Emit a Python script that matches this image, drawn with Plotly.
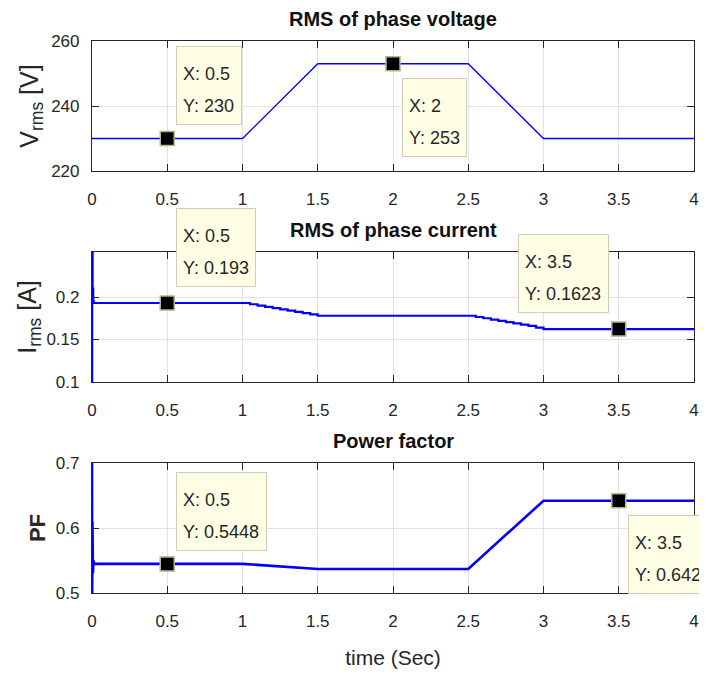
import plotly.graph_objects as go

# ---------------- data ----------------
t_volt = [0, 1, 1.5, 2.5, 3, 4]
v_rms = [230, 230, 253, 253, 230, 230]

t_cur = [0, 0.001, 0.004, 0.008, 0.012, 1.0, 1.05, 1.1, 1.15, 1.2, 1.25, 1.3, 1.35, 1.4, 1.45, 1.5,
         2.5, 2.55, 2.6, 2.65, 2.7, 2.75, 2.8, 2.85, 2.9, 2.95, 3.0, 4.0]
i_rms = [0.1, 0.26, 0.21, 0.195, 0.193, 0.193, 0.1915, 0.190, 0.1885, 0.187, 0.1855, 0.184, 0.1825, 0.181, 0.1795, 0.178,
         0.178, 0.1765, 0.175, 0.1735, 0.172, 0.1705, 0.169, 0.1675, 0.166, 0.164, 0.1623, 0.1623]

t_pf = [0, 0.001, 0.003, 0.006, 0.01, 0.015, 1.0, 1.1, 1.2, 1.3, 1.4, 1.5, 2.5, 2.6, 2.7, 2.8, 2.9, 3.0, 4.0]
pf = [0.70, 0.50, 0.61, 0.53, 0.55, 0.5448, 0.5448, 0.5432, 0.5415, 0.540, 0.538, 0.537, 0.537, 0.558, 0.580, 0.601, 0.621, 0.642, 0.642]

tip_v_x = [0.5, 2]
tip_v_y = [230, 253]
tip_i_x = [0.5, 3.5]
tip_i_y = [0.193, 0.1623]
tip_pf_x = [0.5, 3.5]
tip_pf_y = [0.5448, 0.642]

x_ticks = [0, 0.5, 1, 1.5, 2, 2.5, 3, 3.5, 4]
x_tick_text = ["0", "0.5", "1", "1.5", "2", "2.5", "3", "3.5", "4"]
v_ticks = [220, 240, 260]
i_ticks = [0.1, 0.15, 0.2]
pf_ticks = [0.5, 0.6, 0.7]

titles = ["RMS of phase voltage", "RMS of phase current", "Power factor"]

# ---------------- style ----------------
FONT = "Liberation Sans, Arial, sans-serif"
TXT = "#262626"
BLUE = "#0000ff"
OFF = 8  # page body margin
W, H = 707 - OFF, 675 - OFF
ML, MR, MT, MB = 92 - OFF, 8, 41 - OFF, 82
ph = H - MT - MB
dom1 = [(593 - 171) / ph, 1.0]
dom2 = [(593 - 382) / ph, (593 - 252) / ph]
dom3 = [0.0, (593 - 463) / ph]

fig = go.Figure()

fig.add_trace(go.Scatter(x=t_volt, y=v_rms, mode="lines", line=dict(color=BLUE, width=1.3),
                         xaxis="x", yaxis="y", showlegend=False))
fig.add_trace(go.Scatter(x=t_cur, y=i_rms, mode="lines", line=dict(color=BLUE, width=2.2, shape="hv"),
                         xaxis="x2", yaxis="y2", showlegend=False))
fig.add_trace(go.Scatter(x=t_pf, y=pf, mode="lines", line=dict(color=BLUE, width=2.6),
                         xaxis="x3", yaxis="y3", showlegend=False))

mk = dict(symbol="square", size=14, color="black", line=dict(color="#b4b48c", width=1.5))
for xs, ys, xa, ya in [(tip_v_x, tip_v_y, "x", "y"), (tip_i_x, tip_i_y, "x2", "y2"),
                       (tip_pf_x, tip_pf_y, "x3", "y3")]:
    fig.add_trace(go.Scatter(x=xs, y=ys, mode="markers", marker=mk, xaxis=xa, yaxis=ya,
                             showlegend=False, cliponaxis=False))

common_x = dict(range=[0, 4], tickvals=x_ticks, ticktext=x_tick_text, ticks="inside", ticklen=7,
                tickcolor=TXT, showline=True, linecolor=TXT, linewidth=1.2, mirror="ticks",
                showgrid=True, gridcolor="#e2e2e2", gridwidth=1, zeroline=False,
                tickfont=dict(family=FONT, size=17, color=TXT), ticklabelstandoff=12, domain=[0, 1])
common_y = dict(ticks="inside", ticklen=7, tickcolor=TXT, showline=True, linecolor=TXT, linewidth=1.2,
                mirror="ticks", showgrid=True, gridcolor="#e2e2e2", gridwidth=1, zeroline=False,
                tickfont=dict(family=FONT, size=17, color=TXT), ticklabelstandoff=8)

fig.update_layout(
    width=W, height=H, margin=dict(l=ML, r=MR, t=MT, b=MB),
    paper_bgcolor="white", plot_bgcolor="white",
    xaxis=dict(**common_x, anchor="y"),
    xaxis2=dict(**common_x, anchor="y2"),
    xaxis3=dict(**common_x, anchor="y3",
                title=dict(text="time (Sec)", font=dict(family=FONT, size=21, color=TXT), standoff=20)),
    yaxis=dict(**common_y, domain=dom1, anchor="x", range=[220, 260], tickvals=v_ticks,
               title=dict(text="V<sub>rms</sub> [V]", font=dict(family=FONT, size=25, color=TXT), standoff=5)),
    yaxis2=dict(**common_y, domain=dom2, anchor="x2", range=[0.1, 0.253], tickvals=i_ticks,
                title=dict(text="I<sub>rms</sub> [A]", font=dict(family=FONT, size=25, color=TXT), standoff=2)),
    yaxis3=dict(**common_y, domain=dom3, anchor="x3", range=[0.5, 0.7], tickvals=pf_ticks,
                title=dict(text="<b>PF</b>", font=dict(family=FONT, size=22, color=TXT), standoff=4)),
)

annotations = []
for title, dom in zip(titles, [dom1, dom2, dom3]):
    annotations.append(dict(text=f"<b>{title}</b>", xref="paper", yref="paper", x=0.5, y=dom[1],
                            xanchor="center", yanchor="middle", yshift=22, showarrow=False,
                            font=dict(family=FONT, size=20, color="#111111")))

# datatip boxes: (dx, dy) of box top-left from the data point in px, box width
tip_style = {
    ("x", "y", 0): (9, -93, 66),
    ("x", "y", 1): (9, 14, 65),
    ("x2", "y2", 0): (9, -95, 80),
    ("x2", "y2", 1): (-101, -95, 91),
    ("x3", "y3", 0): (9, -92, 91),
    ("x3", "y3", 1): (9, 14, 82),
}
BOX_H = 79
for xs, ys, xa, ya in [(tip_v_x, tip_v_y, "x", "y"), (tip_i_x, tip_i_y, "x2", "y2"),
                       (tip_pf_x, tip_pf_y, "x3", "y3")]:
    for k, (xv, yv) in enumerate(zip(xs, ys)):
        dx, dy, bw = tip_style[(xa, ya, k)]
        annotations.append(dict(text=" ", xref=xa, yref=ya, x=xv, y=yv, xanchor="left", yanchor="top",
                                xshift=dx, yshift=-dy, width=bw - 2, height=BOX_H - 2, showarrow=False,
                                bgcolor="#ffffe6", bordercolor="#cfcfb8", borderwidth=1, borderpad=0))
        for j, line in enumerate([f"X: {xv:g}", f"Y: {yv:g}"]):
            cy = dy + 28 + 32 * j
            annotations.append(dict(text=line, xref=xa, yref=ya, x=xv, y=yv, xanchor="left",
                                    yanchor="middle", xshift=dx + 5, yshift=-cy, showarrow=False,
                                    font=dict(family=FONT, size=18, color=TXT)))

fig.update_layout(annotations=annotations)
fig.write_html("out.html")
